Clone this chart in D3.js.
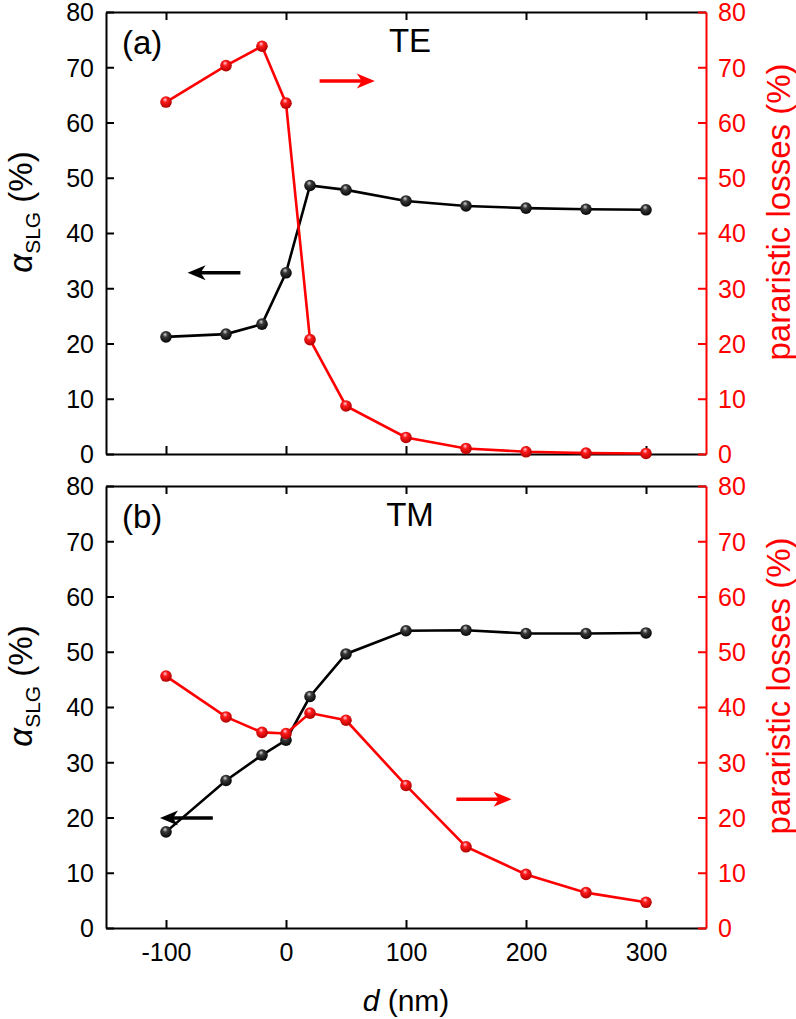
<!DOCTYPE html>
<html>
<head>
<meta charset="utf-8">
<script src="https://cdn.jsdelivr.net/npm/d3@7"></script>
<style>
  html, body { margin: 0; padding: 0; background: #fff; }
  svg { display: block; }
  text { font-family: "Liberation Sans", Arial, sans-serif; }
</style>
</head>
<body>
<svg id="chart" width="796" height="1019"></svg>
<script>
// ---- data ----
const dValues = [-100, -50, -20, 0, 20, 50, 100, 150, 200, 250, 300];
const teAlpha = [21.2, 21.7, 23.5, 32.8, 48.6, 47.8, 45.8, 44.9, 44.5, 44.3, 44.2];
const teLoss  = [63.7, 70.3, 73.8, 63.5, 20.7, 8.7, 3.0, 1.0, 0.4, 0.15, 0.1];
const tmAlpha = [17.4, 26.7, 31.3, 34.0, 41.9, 49.6, 53.8, 53.9, 53.3, 53.3, 53.4];
const tmLoss  = [45.6, 38.2, 35.4, 35.2, 38.9, 37.6, 25.8, 14.7, 9.7, 6.4, 4.65];
const xTicks = [-100, 0, 100, 200, 300];
const yTicks = [0, 10, 20, 30, 40, 50, 60, 70, 80];
const panelLabels = ["(a)", "(b)"];
const modeLabels = ["TE", "TM"];
const xTitle = "(nm)";
const rightTitle = "pararistic losses (%)";

// ---- layout ----
const svg = d3.select("#chart");
const X0 = 106, X1 = 706;
const panels = [
  { top: 12, bottom: 454, alpha: teAlpha, loss: teLoss, label: panelLabels[0], mode: modeLabels[0],
    blackArrow: { x1: -38, x2: -82, v: 32.8 }, redArrow: { x1: 28, x2: 74, v: 67.5 }, showX: false },
  { top: 486, bottom: 928, alpha: tmAlpha, loss: tmLoss, label: panelLabels[1], mode: modeLabels[1],
    blackArrow: { x1: -61, x2: -105, v: 19.9 }, redArrow: { x1: 142, x2: 188, v: 23.3 }, showX: true }
];
const RED = "#ff0000";
const font = "Liberation Sans, Arial, sans-serif";

const x = d3.scaleLinear().domain([-150, 350]).range([X0, X1]);

// gradients for sphere markers
const defs = svg.append("defs");
function sphere(id, hi, mid, edge) {
  const g = defs.append("radialGradient").attr("id", id)
    .attr("cx", "45%").attr("cy", "40%").attr("r", "60%")
    .attr("fx", "42%").attr("fy", "28%");
  g.append("stop").attr("offset", "0%").attr("stop-color", hi);
  g.append("stop").attr("offset", "35%").attr("stop-color", mid);
  g.append("stop").attr("offset", "100%").attr("stop-color", edge);
}
sphere("gBlack", "#d8d8d8", "#3a3a3a", "#050505");
sphere("gRed", "#ffd0dc", "#ff1a1a", "#b00000");

function arrow(g, xs, y, x1, x2, color) {
  // x1 tail, x2 tip
  const tail = xs(x1), tip = xs(x2);
  const dir = Math.sign(tail - tip); // +1 => points left
  g.append("line")
    .attr("x1", tail).attr("x2", tip + dir * 12)
    .attr("y1", y).attr("y2", y)
    .attr("stroke", color).attr("stroke-width", 3.5);
  g.append("path")
    .attr("d", `M${tip},${y} L${tip + dir * 18},${y - 7.5} L${tip + dir * 13},${y} L${tip + dir * 18},${y + 7.5} Z`)
    .attr("fill", color);
}

panels.forEach(p => {
  const g = svg.append("g");
  const yL = d3.scaleLinear().domain([0, 80]).range([p.bottom, p.top]);
  const yR = d3.scaleLinear().domain([0, 80]).range([p.bottom, p.top]);

  // frame axes
  const ax = g.append("g").attr("class", "axes");
  // bottom axis
  const bottomAxis = ax.append("g").attr("transform", `translate(0,${p.bottom})`)
    .call(d3.axisBottom(x).tickValues(xTicks).tickSizeInner(-8).tickSizeOuter(0)
      .tickFormat(p.showX ? d3.format("d") : ""));
  bottomAxis.select(".domain").attr("stroke", "#000").attr("stroke-width", 2);
  bottomAxis.selectAll(".tick line").attr("stroke", "#000").attr("stroke-width", 2);
  bottomAxis.selectAll(".tick text")
    .attr("y", 0).attr("dy", 0)
    .attr("transform", "translate(0,33)")
    .attr("font-size", 25).attr("font-family", font).attr("fill", "#000")
    .text(d => p.showX ? (d < 0 ? "-" + Math.abs(d) : d) : "");
  // top axis
  const topAxis = ax.append("g").attr("transform", `translate(0,${p.top})`)
    .call(d3.axisTop(x).tickValues(xTicks).tickSizeInner(-8).tickSizeOuter(0).tickFormat(""));
  topAxis.select(".domain").attr("stroke", "#000").attr("stroke-width", 2);
  topAxis.selectAll(".tick line").attr("stroke", "#000").attr("stroke-width", 2);
  // left axis
  const leftAxis = ax.append("g").attr("transform", `translate(${X0},0)`)
    .call(d3.axisLeft(yL).tickValues(yTicks).tickSizeInner(-8).tickSizeOuter(0).tickPadding(12));
  leftAxis.select(".domain").attr("stroke", "#000").attr("stroke-width", 2);
  leftAxis.selectAll(".tick line").attr("stroke", "#000").attr("stroke-width", 2);
  leftAxis.selectAll(".tick text").attr("font-size", 25).attr("font-family", font).attr("fill", "#000")
    .attr("x", -12).attr("dy", "0.35em");
  // right axis
  const rightAxis = ax.append("g").attr("transform", `translate(${X1},0)`)
    .call(d3.axisRight(yR).tickValues(yTicks).tickSizeInner(-8).tickSizeOuter(0));
  rightAxis.select(".domain").attr("stroke", RED).attr("stroke-width", 2);
  rightAxis.selectAll(".tick line").attr("stroke", RED).attr("stroke-width", 2);
  rightAxis.selectAll(".tick text").attr("font-size", 25).attr("font-family", font).attr("fill", RED)
    .attr("x", 12).attr("dy", "0.35em");

  // series
  const pts = (vals) => dValues.map((d, i) => [d, vals[i]]);
  const lineL = d3.line().x(d => x(d[0])).y(d => yL(d[1]));
  const lineR = d3.line().x(d => x(d[0])).y(d => yR(d[1]));

  g.append("path").attr("d", lineL(pts(p.alpha)))
    .attr("fill", "none").attr("stroke", "#000").attr("stroke-width", 2.6);
  g.selectAll(".mb").data(pts(p.alpha)).enter().append("circle")
    .attr("cx", d => x(d[0])).attr("cy", d => yL(d[1])).attr("r", 5.8)
    .attr("fill", "url(#gBlack)");

  g.append("path").attr("d", lineR(pts(p.loss)))
    .attr("fill", "none").attr("stroke", RED).attr("stroke-width", 2.6);
  g.selectAll(".mr").data(pts(p.loss)).enter().append("circle")
    .attr("cx", d => x(d[0])).attr("cy", d => yR(d[1])).attr("r", 5.8)
    .attr("fill", "url(#gRed)");

  // arrows
  arrow(g, x, yL(p.blackArrow.v), p.blackArrow.x1, p.blackArrow.x2, "#000");
  arrow(g, x, yR(p.redArrow.v), p.redArrow.x1, p.redArrow.x2, RED);

  // annotations
  g.append("text").attr("x", 122).attr("y", p.top + 42)
    .attr("font-size", 33).attr("font-family", font).text(p.label);
  g.append("text").attr("x", 410).attr("y", p.top + 40).attr("text-anchor", "middle")
    .attr("font-size", 33).attr("font-family", font).text(p.mode);

  // left title
  const cy = p.top + 200;
  const lt = g.append("text").attr("transform", `translate(32,${cy}) rotate(-90)`)
    .attr("text-anchor", "middle").attr("font-family", font).attr("fill", "#000");
  lt.append("tspan").attr("font-size", 33).attr("font-style", "italic").text("α");
  lt.append("tspan").attr("font-size", 21).attr("dy", 8).text("SLG");
  lt.append("tspan").attr("font-size", 33).attr("dy", -8).text(" (%)");

  // right title
  g.append("text").attr("transform", `translate(790,${cy}) rotate(-90)`)
    .attr("text-anchor", "middle").attr("font-family", font).attr("font-size", 33)
    .attr("fill", RED).text(rightTitle);
});

// x title
const xt = svg.append("text").attr("x", 406).attr("y", 1011).attr("text-anchor", "middle")
  .attr("font-family", font).attr("font-size", 30).attr("fill", "#000");
xt.append("tspan").attr("font-style", "italic").text("d");
xt.append("tspan").text(" " + xTitle);
</script>
</body>
</html>
